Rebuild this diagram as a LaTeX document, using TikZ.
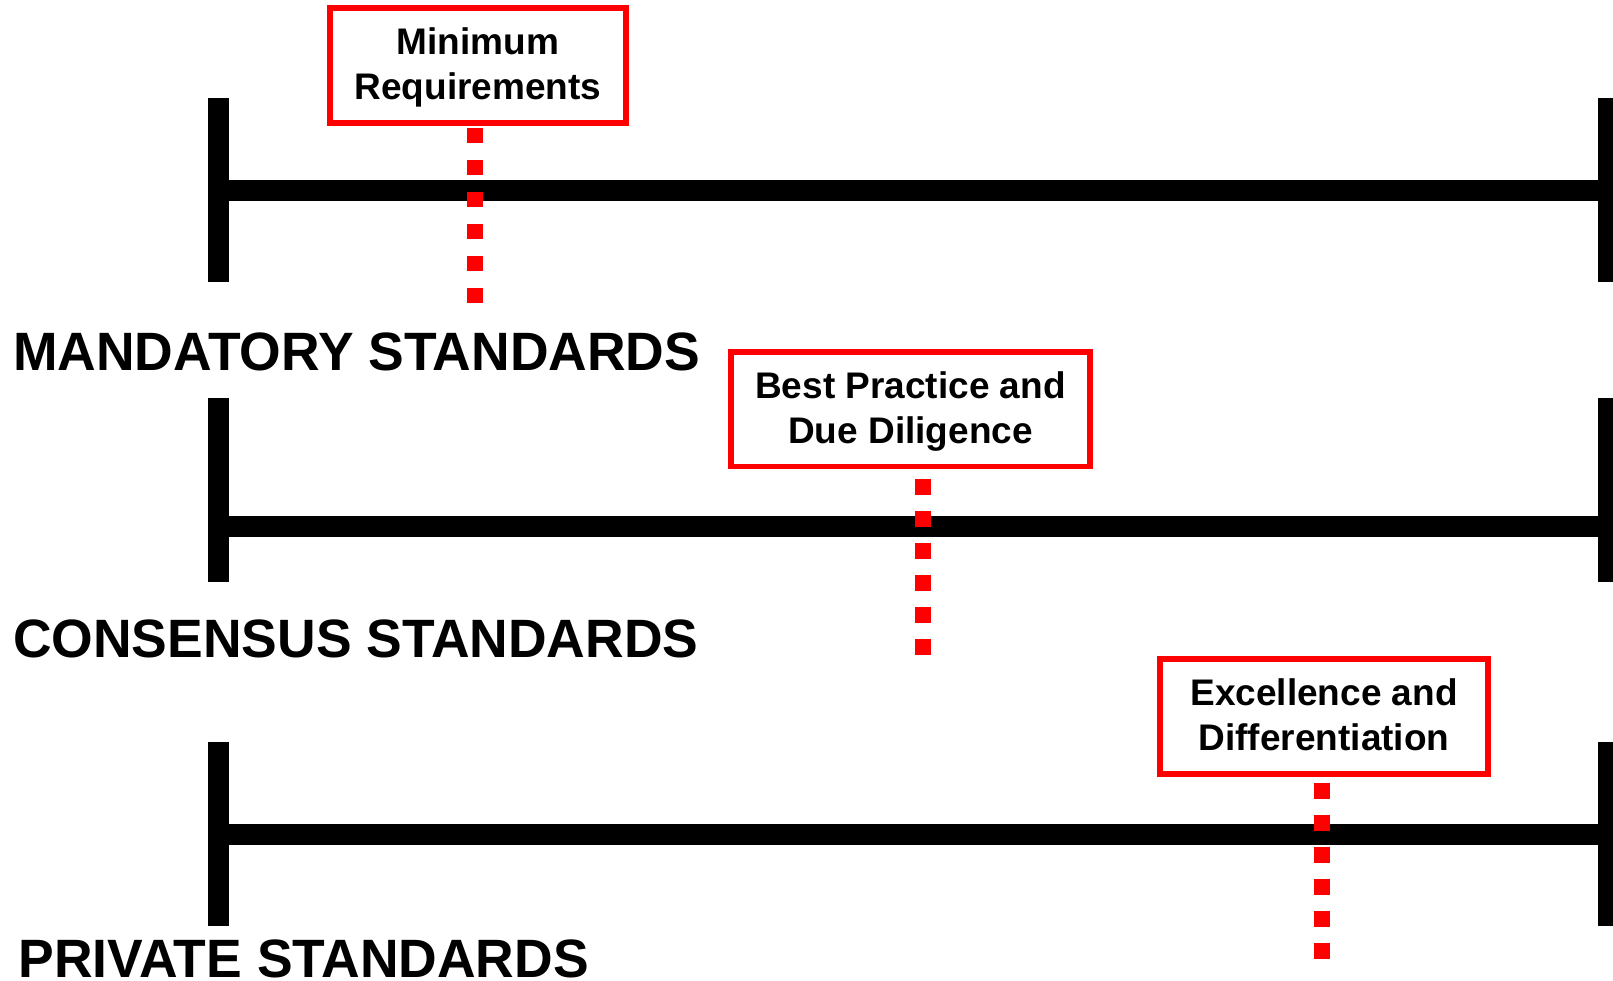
\documentclass[tikz,border=0pt]{standalone}
\usepackage{fontspec}
\setmainfont{Liberation Sans}
\begin{document}
\begin{tikzpicture}[x=1pt,y=1pt,
  bar/.style={line width=21pt,line cap=butt},
  redbox/.style={draw=red,line width=5.3pt,fill=white,inner sep=0pt},
  boxtext/.style={inner sep=0pt,align=center,font=\fontsize{37}{45}\selectfont\bfseries},
  reddots/.style={draw=red,line width=16pt,line cap=butt,dash pattern=on 15.7pt off 16.3pt},
  biglabel/.style={anchor=base west,inner sep=0pt,font=\fontsize{54}{60}\selectfont\bfseries}]
\useasboundingbox (0,0) rectangle (1613,980);
\fill[white] (0,0) rectangle (1613,980);
% row 1
\coordinate (l1t) at (218,881.7); \coordinate (l1b) at (218,697.7);
\coordinate (r1t) at (1608.7,881.7); \coordinate (r1b) at (1608.7,697.7);
\coordinate (l1m) at (218,789.3); \coordinate (r1m) at (1608.7,789.3);
\draw[bar] (l1t) -- (l1b);
\draw[bar] (r1t) -- (r1b);
\draw[bar] (l1m) -- (r1m);
% row 2
\coordinate (l2t) at (218,581.7); \coordinate (l2b) at (218,397.7);
\coordinate (r2t) at (1608.7,581.7); \coordinate (r2b) at (1608.7,397.7);
\coordinate (l2m) at (218,453.7); \coordinate (r2m) at (1608.7,453.7);
\draw[bar] (l2t) -- (l2b);
\draw[bar] (r2t) -- (r2b);
\draw[bar] (l2m) -- (r2m);
% row 3
\coordinate (l3t) at (218,238); \coordinate (l3b) at (218,54);
\coordinate (r3t) at (1608.7,238); \coordinate (r3b) at (1608.7,54);
\coordinate (l3m) at (218,146); \coordinate (r3m) at (1608.7,146);
\draw[bar] (l3t) -- (l3b);
\draw[bar] (r3t) -- (r3b);
\draw[bar] (l3m) -- (r3m);
% boxes
\node[redbox,minimum width=296pt,minimum height=115pt] (b1) at (478,914.5) {};
\node[redbox,minimum width=359pt,minimum height=114.5pt] (b2) at (910.5,570.75) {};
\node[redbox,minimum width=328pt,minimum height=115pt] (b3) at (1324,263.5) {};
\node[boxtext] (t1) at (478,913) {Minimum\\Requirements};
\node[boxtext] (t2) at (910.5,568.75) {Best Practice and\\Due Diligence};
\node[boxtext] (t3) at (1324,265) {Excellence and\\Differentiation};
% dotted markers
\coordinate (d1t) at (475.3,852.3); \coordinate (d1b) at (475.3,676.7);
\coordinate (d2t) at (923.3,500.7); \coordinate (d2b) at (923.3,325);
\coordinate (d3t) at (1322,196.7); \coordinate (d3b) at (1322,20.7);
\draw[reddots] (d1t) -- (d1b);
\draw[reddots] (d2t) -- (d2b);
\draw[reddots] (d3t) -- (d3b);
% labels
\node[biglabel] (m) at (13,609.3) {\scalebox{0.99}[1]{MANDATORY STANDARDS}};
\node[biglabel] (c) at (13,322.7) {\scalebox{0.99}[1]{CONSENSUS STANDARDS}};
\node[biglabel] (p) at (18.3,3) {\scalebox{0.99}[1]{PRIVATE STANDARDS}};
\end{tikzpicture}
\end{document}
